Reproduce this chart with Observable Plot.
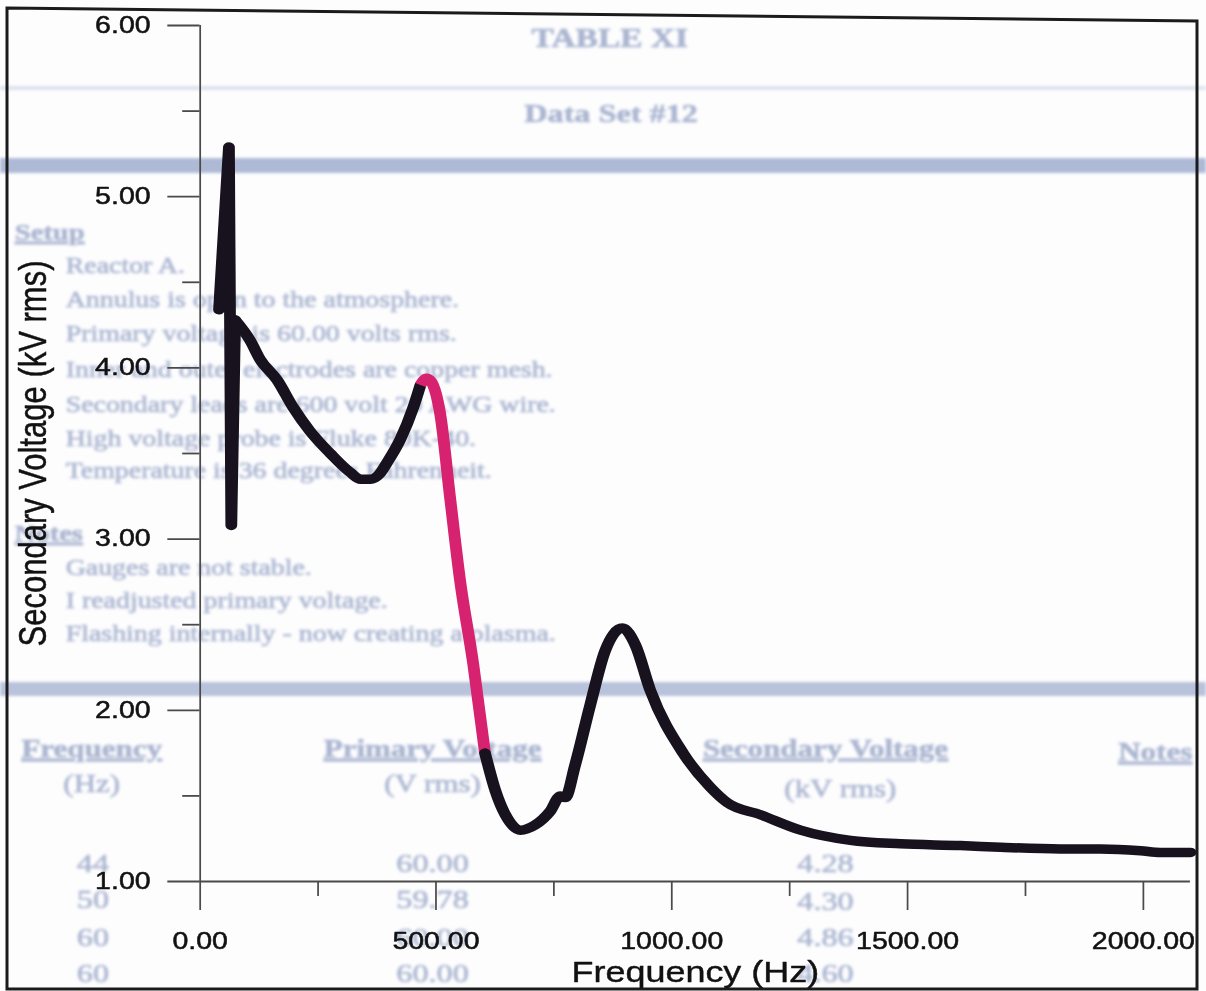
<!DOCTYPE html>
<html><head><meta charset="utf-8">
<script src="https://cdn.jsdelivr.net/npm/d3@7"></script>
<script src="https://cdn.jsdelivr.net/npm/@observablehq/plot@0.6"></script>
<style>
html,body{margin:0;padding:0;background:#fff;overflow:hidden;}
#page{position:relative;width:1206px;height:991px;overflow:hidden;background:#fdfdfe;}
#stretch{position:absolute;left:0;top:0;width:973px;height:991px;transform:scaleX(1.2395);transform-origin:0 0;}
#bg{position:absolute;left:0;top:0;filter:blur(1.4px);}
#chart{position:absolute;left:0;top:0;}
#border{position:absolute;left:0;top:0;}
</style></head>
<body>
<div id="page">
  <div id="stretch">
    <svg id="bg" width="973" height="991"></svg>
    <div id="chart"></div>
  </div>
  <svg id="border" width="1206" height="991"><polygon points="7,8 1197,21 1197,989 7,989" fill="none" stroke="#1b1b1b" stroke-width="3"/></svg>
</div>
<script>
// ---- data ----
const blackFreqA = [40, 61, 66, 74, 106, 127, 163, 197, 233, 276, 318, 340, 361, 380, 397, 424, 452, 467];
const blackVoltA = [4.34, 5.29, 3.08, 4.28, 4.16, 4.05, 3.93, 3.77, 3.63, 3.50, 3.39, 3.35, 3.35, 3.38, 3.45, 3.58, 3.77, 3.90];
const pinkFreq = [467, 480, 490, 509, 530, 551, 579, 604];
const pinkVolt = [3.90, 3.94, 3.92, 3.73, 3.24, 2.76, 2.27, 1.75];
const blackFreqB = [604, 626, 647, 679, 710, 742, 764, 774, 795, 827, 859, 895, 923, 954, 1024, 1082, 1118, 1188, 1273, 1379, 1485, 1612, 1697, 1824, 1909, 1994, 2036, 2100];
const blackVoltB = [1.75, 1.53, 1.39, 1.30, 1.33, 1.41, 1.50, 1.49, 1.68, 2.03, 2.35, 2.48, 2.38, 2.12, 1.75, 1.55, 1.46, 1.39, 1.30, 1.24, 1.22, 1.21, 1.20, 1.19, 1.19, 1.18, 1.17, 1.17];

const xMajor = [0, 500, 1000, 1500, 2000];
const xMinor = [250, 750, 1250, 1750];
const yMajor = [1, 2, 3, 4, 5, 6];
const yMinor = [1.5, 2.5, 3.5, 4.5, 5.5];
const xLabel = "Frequency (Hz)";
const yLabel = "Secondary Voltage (kV rms)";

// faded scanned page behind the chart (text content)
const bgLines = [
  ["TABLE XI", 492, 47, 27, "bold", "middle", false],
  ["Data Set #12", 493, 122, 26, "bold", "middle", false],
  ["Setup", 12, 240, 23, "bold", "start", true],
  ["Reactor A.", 53, 273, 22.5, "normal", "start", false],
  ["Annulus is open to the atmosphere.", 53, 307, 22.5, "normal", "start", false],
  ["Primary voltage is 60.00 volts rms.", 53, 341, 22.5, "normal", "start", false],
  ["Inner and outer electrodes are copper mesh.", 53, 377, 22.5, "normal", "start", false],
  ["Secondary leads are 600 volt 20 AWG wire.", 53, 412, 22.5, "normal", "start", false],
  ["High voltage probe is Fluke 80K-40.", 53, 446, 22.5, "normal", "start", false],
  ["Temperature is 36 degrees Fahrenheit.", 53, 478, 22.5, "normal", "start", false],
  ["Notes", 12, 541, 23, "bold", "start", true],
  ["Gauges are not stable.", 53, 575, 22.5, "normal", "start", false],
  ["I readjusted primary voltage.", 53, 608, 22.5, "normal", "start", false],
  ["Flashing internally - now creating a plasma.", 53, 641, 22.5, "normal", "start", false],
  ["Frequency", 74, 757, 25, "bold", "middle", true],
  ["(Hz)", 74, 792, 25, "normal", "middle", false],
  ["Primary Voltage", 349, 757, 25, "bold", "middle", true],
  ["(V rms)", 349, 792, 25, "normal", "middle", false],
  ["Secondary Voltage", 666, 757, 25, "bold", "middle", true],
  ["(kV rms)", 678, 797, 25, "normal", "middle", false],
  ["Notes", 932, 760, 25, "bold", "middle", true],
  ["44", 75, 872, 26, "normal", "middle", false],
  ["50", 75, 908, 26, "normal", "middle", false],
  ["60", 75, 946, 26, "normal", "middle", false],
  ["60", 75, 982, 26, "normal", "middle", false],
  ["60.00", 349, 872, 26, "normal", "middle", false],
  ["59.78", 349, 908, 26, "normal", "middle", false],
  ["60.00", 349, 946, 26, "normal", "middle", false],
  ["60.00", 349, 982, 26, "normal", "middle", false],
  ["4.28", 666, 872, 26, "normal", "middle", false],
  ["4.30", 666, 910, 26, "normal", "middle", false],
  ["4.86", 666, 946, 26, "normal", "middle", false],
  ["4.60", 666, 982, 26, "normal", "middle", false]
];
const bgBands = [[0, 86, 973, 4, "#dde2ec"], [0, 158, 973, 15, "#aebad5"], [0, 682, 973, 14, "#b8c2da"]];

// ---- background page ----
const bg = d3.select("#bg");
bg.selectAll("rect").data(bgBands).join("rect")
  .attr("x", d => d[0]).attr("y", d => d[1]).attr("width", d => d[2]).attr("height", d => d[3]).attr("fill", d => d[4]);
bg.selectAll("text").data(bgLines).join("text")
  .attr("x", d => d[1]).attr("y", d => d[2])
  .attr("font-size", d => d[3]).attr("font-weight", d => d[4]).attr("text-anchor", d => d[5])
  .attr("text-decoration", d => d[6] ? "underline" : null)
  .attr("font-family", "'Liberation Serif', 'DejaVu Serif', serif")
  .attr("fill", "#aab5d0").attr("stroke", "#aab5d0").attr("stroke-width", 0.6)
  .text(d => d[0]);

// ---- chart ----
const toRows = (fs, vs) => fs.map((f, i) => ({f, v: vs[i]}));
const axisColor = "#4a4a4a";
const lineColor = "#17121d";
const lw = 9.5;
const chart = Plot.plot({
  width: 973, height: 991,
  marginLeft: 161, marginRight: 13, marginTop: 25, marginBottom: 110,
  style: {background: "transparent", fontFamily: "'Liberation Sans', Arial, sans-serif", color: "#111", overflow: "visible"},
  x: {domain: [0, 2100]},
  y: {domain: [1, 6]},
  marks: [
    Plot.ruleX([0], {y1: 1, y2: 6, stroke: axisColor, strokeWidth: 1.4}),
    Plot.ruleY([1], {x1: 0, x2: 2100, stroke: axisColor, strokeWidth: 1.8}),
    Plot.axisY(yMinor, {tickSize: 14, fill: "none", stroke: axisColor, strokeWidth: 1.8, label: null}),
    Plot.axisY(yMajor, {tickSize: 26, tickPadding: 14, tickFormat: d => d.toFixed(2), fontSize: 23, stroke: axisColor, strokeWidth: 1.8, fill: "#111", textStroke: "#111", textStrokeWidth: 0.5, label: null}),
    Plot.axisX(xMinor, {tickSize: 15, fill: "none", stroke: axisColor, strokeWidth: 1.4, label: null}),
    Plot.axisX(xMajor, {tickSize: 29, tickPadding: 22, tickFormat: d => d.toFixed(2), fontSize: 23, stroke: axisColor, strokeWidth: 1.4, fill: "#111", textStroke: "#111", textStrokeWidth: 0.5, label: null}),
    Plot.line(toRows(blackFreqA.slice(0, 4), blackVoltA.slice(0, 4)), {x: "f", y: "v", stroke: lineColor, strokeWidth: lw, strokeLinejoin: "round", strokeLinecap: "round"}),
    Plot.line(toRows(blackFreqA.slice(3), blackVoltA.slice(3)), {x: "f", y: "v", curve: "monotone-x", stroke: lineColor, strokeWidth: lw, strokeLinejoin: "round", strokeLinecap: "round"}),
    Plot.line(toRows(pinkFreq, pinkVolt), {x: "f", y: "v", curve: "monotone-x", stroke: "#d6226f", strokeWidth: lw, strokeLinejoin: "round", strokeLinecap: "butt"}),
    Plot.line(toRows(blackFreqB, blackVoltB), {x: "f", y: "v", curve: "monotone-x", stroke: lineColor, strokeWidth: lw, strokeLinejoin: "round", strokeLinecap: "round"}),
    Plot.text([yLabel], {frameAnchor: "left", textAnchor: "middle", dx: -134.5, rotate: -90, fontSize: 31, text: d => d, fill: "#111", stroke: "#111", strokeWidth: 0.4}),
    Plot.text([xLabel], {frameAnchor: "bottom", dy: 100, fontSize: 29, text: d => d, fill: "#111", stroke: "#111", strokeWidth: 0.4})
  ]
});
document.getElementById("chart").appendChild(chart);
</script>
</body></html>
